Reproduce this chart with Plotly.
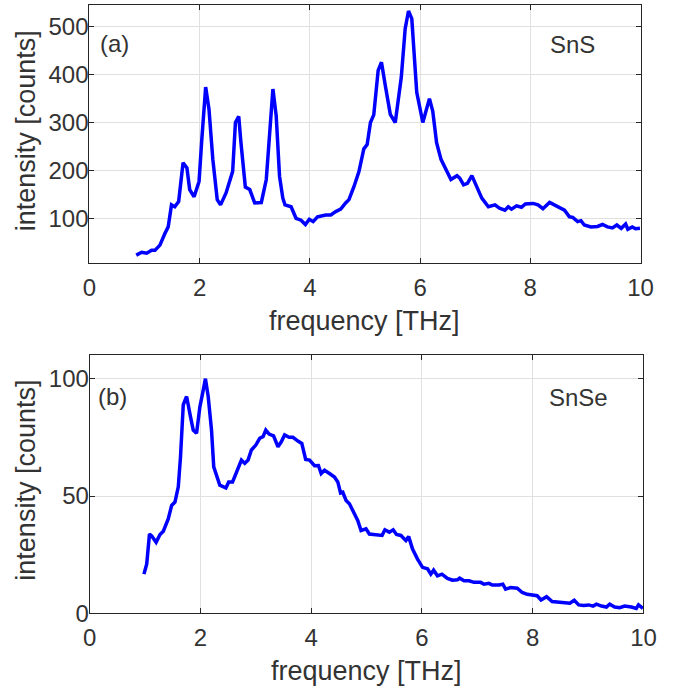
import plotly.graph_objects as go

# ---- Data: (a) SnS ----
sns_freq = [0.85, 0.95, 1.04, 1.13, 1.19, 1.28, 1.37, 1.43, 1.49, 1.55, 1.62, 1.70, 1.77, 1.82, 1.90,
            1.99, 2.04, 2.11, 2.17, 2.24, 2.32, 2.38, 2.48, 2.60, 2.65, 2.71, 2.75, 2.83, 2.91, 3.00,
            3.12, 3.21, 3.33, 3.39, 3.45, 3.51, 3.55, 3.66, 3.75, 3.84, 3.92, 3.99, 4.06, 4.14, 4.29,
            4.38, 4.47, 4.56, 4.65, 4.71, 4.80, 4.89, 4.98, 5.04, 5.10, 5.16, 5.24, 5.30, 5.37, 5.46,
            5.55, 5.66, 5.73, 5.79, 5.85, 5.94, 6.05, 6.12, 6.17, 6.23, 6.30, 6.38, 6.47, 6.56, 6.67,
            6.72, 6.79, 6.86, 6.94, 7.03, 7.12, 7.24, 7.36, 7.44, 7.54, 7.60, 7.66, 7.75, 7.84, 7.91,
            8.05, 8.14, 8.23, 8.35, 8.44, 8.53, 8.62, 8.71, 8.77, 8.86, 8.92, 8.98, 9.10, 9.22, 9.31,
            9.40, 9.49, 9.57, 9.65, 9.73, 9.77, 9.85, 9.91, 9.99]
sns_int = [23, 29, 27, 33, 33, 44, 68, 82, 128, 124, 135, 216, 205, 160, 145,
           177, 265, 374, 328, 223, 139, 128, 153, 198, 300, 313, 258, 165, 160, 132,
           133, 181, 370, 314, 188, 142, 128, 124, 100, 96, 87, 98, 93, 103, 107,
           107, 114, 119, 132, 139, 166, 197, 245, 254, 300, 316, 409, 426, 377, 317,
           300, 395, 496, 533, 517, 363, 300, 328, 350, 324, 258, 223, 202, 181, 189,
           184, 170, 173, 189, 166, 142, 124, 128, 121, 117, 124, 119, 126, 123, 130,
           131, 128, 120, 133, 128, 124, 117, 103, 102, 93, 95, 86, 82, 83, 87,
           82, 80, 86, 79, 88, 77, 82, 78, 79]

# ---- Data: (b) SnSe ----
snse_freq = [0.98, 1.03, 1.08, 1.12, 1.20, 1.27, 1.33, 1.42, 1.48, 1.54, 1.60, 1.64, 1.69, 1.75, 1.82,
             1.87, 1.93, 1.99, 2.04, 2.09, 2.14, 2.20, 2.24, 2.35, 2.46, 2.51, 2.58, 2.65, 2.74, 2.80,
             2.86, 2.92, 3.00, 3.07, 3.13, 3.18, 3.24, 3.32, 3.40, 3.46, 3.52, 3.60, 3.67, 3.76, 3.83,
             3.90, 3.97, 4.06, 4.13, 4.18, 4.24, 4.33, 4.42, 4.48, 4.53, 4.57, 4.63, 4.69, 4.78, 4.84,
             4.90, 4.99, 5.05, 5.20, 5.28, 5.33, 5.41, 5.48, 5.54, 5.62, 5.71, 5.76, 5.83, 5.92, 6.01,
             6.10, 6.16, 6.21, 6.28, 6.36, 6.46, 6.55, 6.64, 6.68, 6.76, 6.85, 6.94, 7.06, 7.12, 7.21,
             7.27, 7.39, 7.46, 7.51, 7.60, 7.72, 7.81, 7.90, 8.02, 8.08, 8.15, 8.25, 8.35, 8.47, 8.58,
             8.67, 8.75, 8.83, 8.92, 9.01, 9.09, 9.15, 9.24, 9.33, 9.39, 9.48, 9.57, 9.66, 9.78, 9.87,
             9.91, 9.99]
snse_int = [16.7, 21, 33.8, 33, 30.3, 33.6, 35, 40.3, 46, 47.4, 53.9, 66.7, 88.9, 92.4, 83.8,
            78.1, 76.7, 88, 93.8, 100, 92.4, 78.1, 62.4, 54.6, 53.4, 56, 56, 60.3, 65.3, 63.9,
            65.3, 69.6, 71.7, 74.6, 75.3, 78.1, 76.4, 75.6, 71, 73.1, 76, 75, 75, 73.4, 72.4,
            65.6, 65.3, 62.9, 63, 59.6, 61, 59.6, 58.1, 56, 51.3, 51.6, 48.1, 46.7, 42.4, 39.6,
            35.3, 36, 33.8, 33.2, 33.2, 35.6, 34.6, 35.6, 33.6, 33.2, 31, 32.7, 27.4, 23.1, 19.6,
            19, 16.7, 18.4, 16, 16.7, 14.9, 14.1, 14.3, 15, 13.9, 13.9, 13.2, 13.2, 12.4, 12.8,
            12.1, 12.1, 12.4, 10.3, 11, 10.7, 8.9, 8.1, 7.8, 7.5, 5.7, 7.1, 5, 4.6, 4.6,
            4.3, 5.6, 3.6, 3.4, 3.6, 3.1, 3.9, 3.1, 2.7, 3.9, 2.7, 2.4, 3.1, 2.7, 2.1,
            3.6, 2.1]

x_ticks = [0, 2, 4, 6, 8, 10]
y_ticks_a = [100, 200, 300, 400, 500]
y_ticks_b = [0, 50, 100]

FONT = "Liberation Sans"
TXT = "#333333"
AX = "#262626"
GRID = "#e0e0e0"

# layout geometry (target pixel positions mapped into figure space)
S = 0.975
OX, OY = 3.0, 1.5
W, H = 694, 708

def fx(px):
    return ((px - OX) / S) / W

def fy(py):
    return 1 - ((py - OY) / S) / H

fig = go.Figure()
fig.add_trace(go.Scatter(x=sns_freq, y=sns_int, mode="lines",
                         line=dict(color="#0000ff", width=3.5), xaxis="x", yaxis="y",
                         showlegend=False))
fig.add_trace(go.Scatter(x=snse_freq, y=snse_int, mode="lines",
                         line=dict(color="#0000ff", width=3.5), xaxis="x2", yaxis="y2",
                         showlegend=False))

common = dict(showline=True, linecolor=AX, linewidth=1, mirror="ticks",
              ticks="inside", ticklen=5, tickcolor=AX, tickwidth=1,
              showgrid=True, gridcolor=GRID, gridwidth=1, zeroline=False,
              tickfont=dict(family=FONT, size=24, color=TXT))

fig.update_layout(
    width=W, height=H,
    margin=dict(l=0, r=0, t=0, b=0),
    paper_bgcolor="white", plot_bgcolor="white",
    xaxis=dict(domain=[fx(85.7), fx(639)], range=[0, 10], tickvals=x_ticks,
               anchor="y", ticklabelstandoff=3, **common),
    yaxis=dict(domain=[fy(263), fy(6.7)], range=[6, 545], tickvals=y_ticks_a,
               anchor="x", ticklabelstandoff=-5, **common),
    xaxis2=dict(domain=[fx(86), fx(642)], range=[0, 10], tickvals=x_ticks,
                anchor="y2", ticklabelstandoff=3, **common),
    yaxis2=dict(domain=[fy(610.7), fy(354.3)], range=[0, 110], tickvals=y_ticks_b,
                anchor="x2", ticklabelstandoff=-5, **common),
)

def ann(text, x, y, size, angle=0):
    fig.add_annotation(text=text, x=fx(x), y=fy(y), xref="paper", yref="paper",
                       showarrow=False, textangle=angle, xanchor="center", yanchor="middle",
                       font=dict(family=FONT, size=size, color=TXT))

ann("frequency [THz]", 362, 320, 27)
ann("frequency [THz]", 364, 668, 27)
ann("intensity [counts]", 22, 131, 27, -90)
ann("intensity [counts]", 22, 478, 27, -90)
ann("(a)", 111, 45, 24)
ann("SnS", 571, 46, 24)
ann("(b)", 109, 395, 24)
ann("SnSe", 577, 396, 24)

fig.write_html("out.html")
